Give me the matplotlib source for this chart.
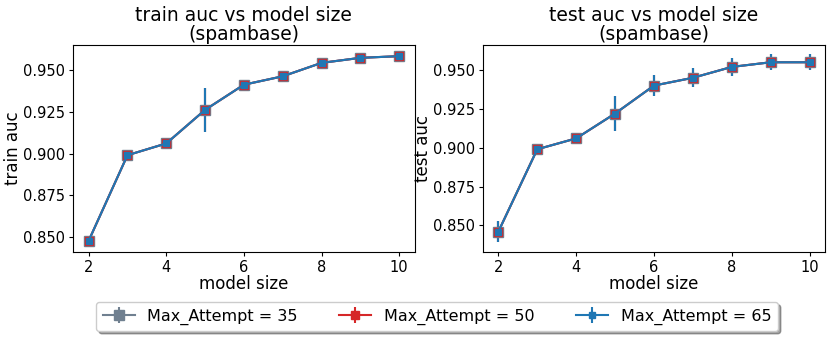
import matplotlib.pyplot as plt
import numpy as np

model_size = [2, 3, 4, 5, 6, 7, 8, 9, 10]
attempts = [35, 50, 65]

train_auc = [0.848, 0.899, 0.906, 0.926, 0.941, 0.946, 0.954, 0.957, 0.958]
train_err = [0.001, 0.001, 0.001, 0.013, 0.001, 0.001, 0.001, 0.001, 0.001]
test_auc = [0.846, 0.899, 0.906, 0.922, 0.940, 0.945, 0.952, 0.955, 0.955]
test_err = [0.007, 0.001, 0.002, 0.011, 0.007, 0.006, 0.006, 0.005, 0.005]

colors = ['slategray', 'tab:red', 'tab:blue']
msizes = [7.6, 6.0, 4.0]

fig = plt.figure(figsize=(8.31, 3.39), dpi=100)
ax1 = fig.add_axes([0.088, 0.257, 0.411, 0.61])
ax2 = fig.add_axes([0.581, 0.257, 0.412, 0.61])

for ax, y, err, name in [(ax1, train_auc, train_err, 'train'), (ax2, test_auc, test_err, 'test')]:
    for att, col, ms in zip(attempts, colors, msizes):
        ax.errorbar(model_size, y, yerr=err, color=col, marker='s', markersize=ms,
                    label='Max_Attempt = %d' % att)
    ax.set_title('%s auc vs model size\n(spambase)' % name, fontsize=13.5, linespacing=1.0, pad=4)
    ax.set_xlabel('model size', fontsize=12, labelpad=0)
    ax.set_ylabel('%s auc' % name, fontsize=12, labelpad=1)
    ax.set_xticks([2, 4, 6, 8, 10])
    ax.set_yticks([0.850, 0.875, 0.900, 0.925, 0.950])
    ax.tick_params(labelsize=10.5, length=3, pad=2.5)

handles, labels = ax1.get_legend_handles_labels()
fig.legend(handles, labels, loc='lower center', ncol=3, bbox_to_anchor=(0.526, 0.0),
           fontsize=11.5, handlelength=2, columnspacing=2.6, shadow=True)

fig.savefig('out.png')
